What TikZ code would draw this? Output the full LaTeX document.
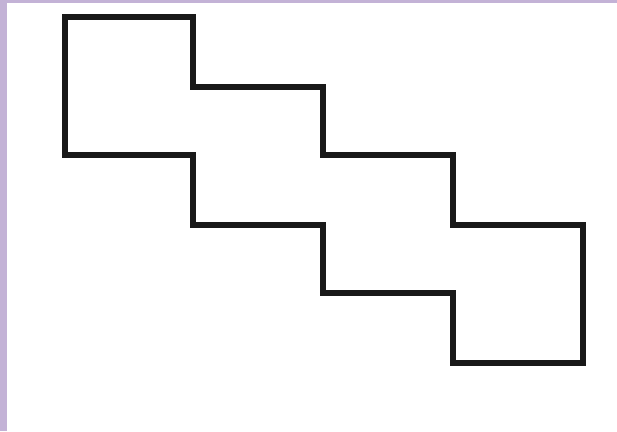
\documentclass[tikz,border=0pt]{standalone}
\usepackage{tikz}
\definecolor{edgelilac}{RGB}{195,178,214}

\begin{document}
\begin{tikzpicture}[x=1pt, y=-1pt,
                    outline/.style={draw=black!90, line width=6pt, line join=miter}
                ]
                    \useasboundingbox (0,0) rectangle (617,431);
                    \fill[white] (0,0) rectangle (617,431);
                    \fill[edgelilac] (0,0) rectangle (7,431);
                    \fill[edgelilac] (0,0) rectangle (617,3);
                    % staircase outline
                    \draw[outline] (65,17) -- (193,17) -- (193,87) -- (323,87) -- (323,155)
                        -- (453,155) -- (453,225) -- (583,225) -- (583,363) -- (453,363)
                        -- (453,293) -- (323,293) -- (323,225) -- (193,225) -- (193,155)
                        -- (65,155) -- cycle;
                \end{tikzpicture}
\end{document}
